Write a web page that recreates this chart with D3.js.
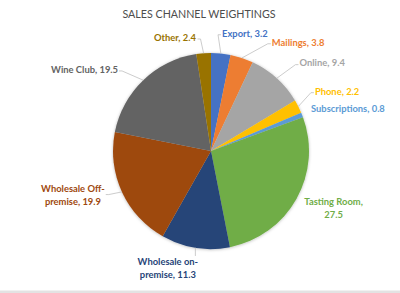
<!DOCTYPE html>
<html><head><meta charset="utf-8">
<script src="https://cdn.jsdelivr.net/npm/d3@7"></script>
<style>html,body{margin:0;padding:0;background:#fff;}svg{display:block;}</style>
</head><body>
<svg id="chart" width="400" height="293"></svg>
<script>
const title = "SALES CHANNEL WEIGHTINGS";
const categories = ["Export","Mailings","Online","Phone","Subscriptions","Tasting Room","Wholesale on-premise","Wholesale Off-premise","Wine Club","Other"];
const values = [3.2,3.8,9.4,2.2,0.8,27.5,11.3,19.9,19.5,2.4];
const colors = ["#4472C4","#ED7D31","#A5A5A5","#FFC000","#5B9BD5","#70AD47","#264478","#9E480E","#636363","#997300"];
// label layout (nudges from a ring around the pie), wrapping and leader lines
const labelNudge = [[-1,1.5],[23,5],[8,1],[-3,-5.5],[-11.6,2],[18,-2],[-24,-1.5],[-29,-6.5],[-10,5],[-6,6]];
const labelAnchor = ["start","start","start","start","start","middle","middle","middle","end","end"];
const labelWrap = [false,false,false,false,false,true,true,true,false,false];
const hasLeader = [true,true,true,true,false,false,true,true,true,true];

const svg = d3.select("#chart");
const cx = 211, cy = 151, r = 98, ringR = 120;

const defs = svg.append("defs");
const f = defs.append("filter").attr("id","sh").attr("x","-20%").attr("y","-20%").attr("width","140%").attr("height","140%");
f.append("feDropShadow").attr("dx",0).attr("dy",0.5).attr("stdDeviation",1.6).attr("flood-color","#000").attr("flood-opacity",0.28);

svg.append("text").attr("x",199).attr("y",13).attr("text-anchor","middle").attr("dominant-baseline","central")
  .style("font-family","Lato, 'Open Sans', sans-serif").style("font-size","10.7px").attr("fill","#4d4d4d").text(title);

const data = categories.map((c,i)=>({cat:c,val:values[i],i}));
const pie = d3.pie().value(d=>d.val).sort(null);
const arcs = pie(data);
const arc = d3.arc().innerRadius(0).outerRadius(r);

const g = svg.append("g").attr("transform",`translate(${cx},${cy})`);
g.append("g").attr("filter","url(#sh)").selectAll("path").data(arcs).join("path")
  .attr("d",arc).attr("fill",d=>colors[d.data.i]);

const font = "Lato, 'Open Sans', sans-serif";
const lg = svg.append("g");
arcs.forEach(a=>{
  const i = a.data.i;
  const mid = (a.startAngle+a.endAngle)/2;
  const px = cx + ringR*Math.sin(mid) + labelNudge[i][0];
  const py = cy - ringR*Math.cos(mid) + labelNudge[i][1];
  const full = `${a.data.cat}, ${a.data.val}`;
  let lines = [full];
  if (labelWrap[i]) {
    const h = a.data.cat.indexOf("-");
    if (h >= 0) lines = [full.slice(0,h+1), full.slice(h+1)];
    else lines = [a.data.cat + ",", String(a.data.val)];
  }
  const lh = 13;
  const t = lg.append("text").attr("text-anchor",labelAnchor[i])
    .style("font-family",font).style("font-size","9.4px").style("font-weight","bold").attr("fill",colors[i]);
  lines.forEach((ln,k)=>{
    t.append("tspan").attr("x",px).attr("y",py + (k-(lines.length-1)/2)*lh).attr("dominant-baseline","central").text(ln);
  });
  if (hasLeader[i]) {
    const bb = t.node().getBBox();
    const ex = cx + r*Math.sin(mid), ey = cy - r*Math.cos(mid);
    let ax, ay, sx;
    if (ex < bb.x) { ax = bb.x - 1; sx = ax - 3; }
    else if (ex > bb.x + bb.width) { ax = bb.x + bb.width + 1; sx = ax + 3; }
    else { ax = ex; sx = ex; }
    ay = (ey > bb.y + bb.height) ? bb.y + bb.height*0.65 : (ey < bb.y ? bb.y + bb.height*0.35 : bb.y + bb.height/2);
    if (ex >= bb.x && ex <= bb.x + bb.width) { ay = ey > bb.y + bb.height ? bb.y + bb.height : bb.y; }
    lg.append("polyline").attr("points",`${ax},${ay} ${sx},${ay} ${ex},${ey}`)
      .attr("fill","none").attr("stroke","#bfbfbf").attr("stroke-width",0.8);
  }
});

svg.append("rect").attr("x",0).attr("y",290.5).attr("width",400).attr("height",2.5).attr("fill","#e3e3e3");
</script>
</body></html>
